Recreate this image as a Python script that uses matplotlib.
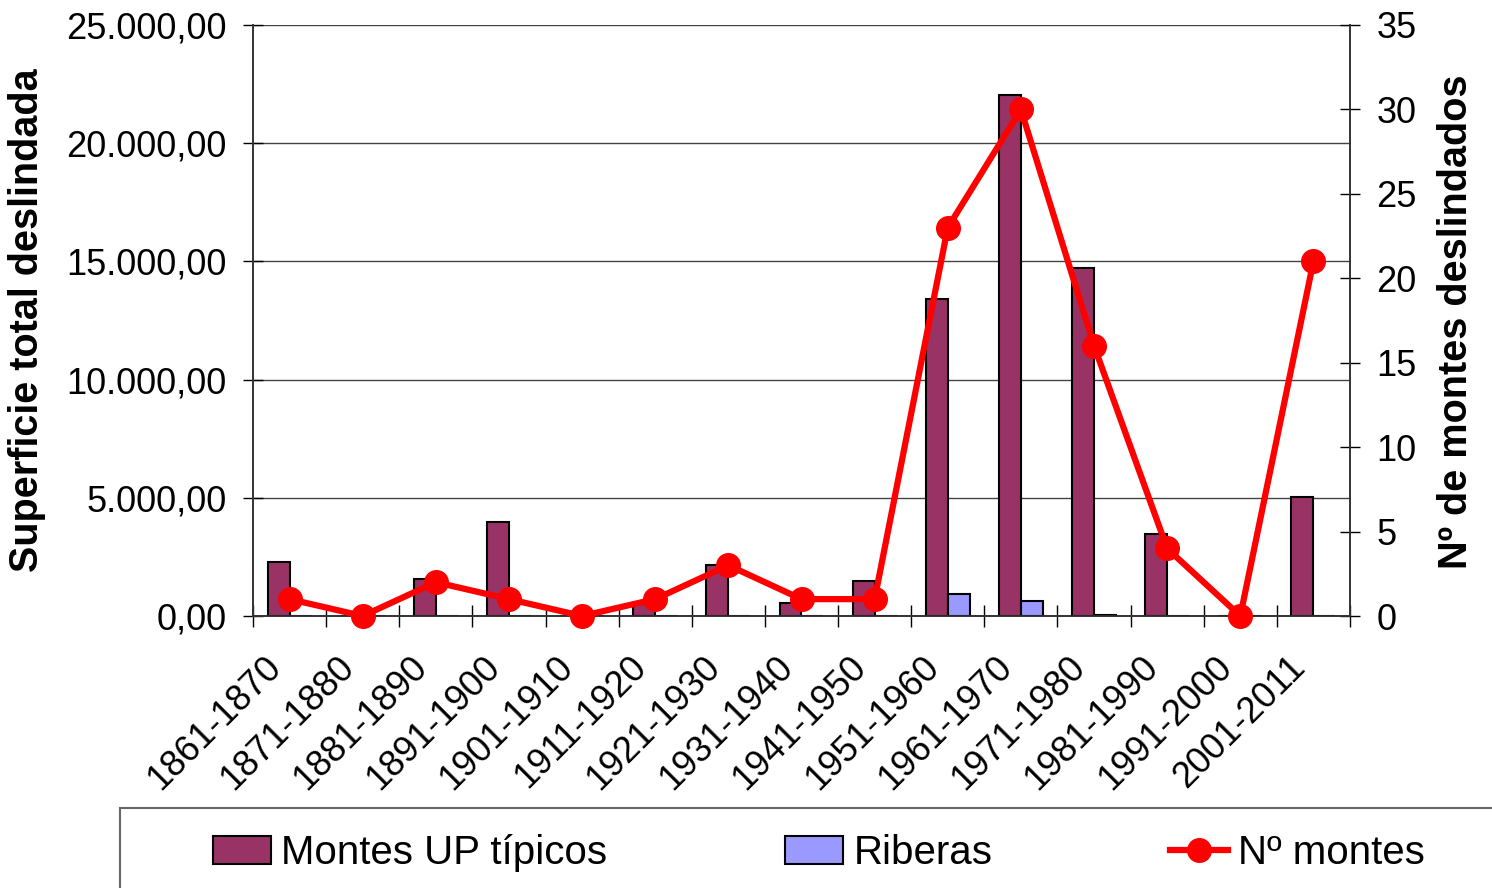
import numpy as np
import matplotlib.pyplot as plt
from matplotlib.ticker import FuncFormatter
from matplotlib.patches import Rectangle

plt.rcParams['font.family'] = ['Liberation Sans', 'DejaVu Sans']

# data
periodos = ['1861-1870', '1871-1880', '1881-1890', '1891-1900', '1901-1910',
            '1911-1920', '1921-1930', '1931-1940', '1941-1950', '1951-1960',
            '1961-1970', '1971-1980', '1981-1990', '1991-2000', '2001-2011']
montes_up = [2290, 0, 1560, 3990, 0, 500, 2140, 550, 1490, 13420,
             22050, 14730, 3470, 0, 5030]
riberas = [0, 0, 0, 0, 0, 0, 0, 0, 0, 920, 620, 50, 0, 0, 0]
n_montes = [1, 0, 2, 1, 0, 1, 3, 1, 1, 23, 30, 16, 4, 0, 21]

fig = plt.figure(figsize=(14.92, 8.88), dpi=100)
ax = fig.add_axes([253/1492, 1 - 616/888, 1097/1492, 591/888])
ax2 = ax.twinx()

x = np.arange(len(periodos))
w = 0.3
ax.bar(x - w/2, montes_up, w, color='#993366', edgecolor='black', lw=1.5,
       label='Montes UP típicos', zorder=3)
ax.bar(x + w/2, riberas, w, color='#9999FF', edgecolor='black', lw=1.5,
       label='Riberas', zorder=3)
ax2.plot(x, n_montes, color='#FF0000', lw=4.5, marker='o', ms=17,
         label='Nº montes', zorder=4, clip_on=False)

ax.set_xlim(-0.5, len(periodos) - 0.5)
ax.set_ylim(0, 25000)
ax2.set_ylim(0, 35)
ax.set_yticks(np.arange(0, 25001, 5000))
ax2.set_yticks(np.arange(0, 36, 5))

def fmt(v, pos):
    return f'{v:,.2f}'.replace(',', 'X').replace('.', ',').replace('X', '.')

ax.yaxis.set_major_formatter(FuncFormatter(fmt))
ax.grid(axis='y', color='#444444', lw=1, zorder=0)
ax.set_axisbelow(True)

# labels sit a bit left of the category centre, as in the original
ax.set_xticks(x - 0.36)
ax.set_xticklabels(periodos, rotation=45, ha='right', rotation_mode='anchor',
                   fontsize=26)
ax.set_xticks(np.arange(-0.5, len(periodos), 1), minor=True)
ax.tick_params(axis='x', which='major', length=0, pad=24)
ax.tick_params(axis='x', which='minor', direction='inout', length=16, width=1)
ax.tick_params(axis='y', direction='inout', length=14, width=1,
               labelsize=26, pad=12)
ax2.tick_params(axis='y', direction='inout', length=14, width=1,
                labelsize=26, pad=12)

for a in (ax, ax2):
    for s in a.spines.values():
        s.set_color('#333333')
        s.set_linewidth(1.2)
ax.spines['top'].set_visible(False)
ax2.spines['top'].set_visible(False)

ax.set_ylabel('Superficie total deslindada', fontsize=28.5, fontweight='bold')
ax2.set_ylabel('Nº de montes deslindados', fontsize=28.5, fontweight='bold')
ax.yaxis.set_label_coords(-0.1887, 0.5)
ax2.yaxis.set_label_coords(1.079, 0.498)

# legend box (runs past the right and bottom edges like the original)
fig.patches.append(Rectangle((120/1492, -0.2), 1.0, 0.2 + 80/888,
                             transform=fig.transFigure, fill=False,
                             edgecolor='#666666', lw=1.5))

h1, l1 = ax.get_legend_handles_labels()
h2, l2 = ax2.get_legend_handles_labels()
leg = fig.legend(h1 + h2, l1 + l2, loc='center left',
                 bbox_to_anchor=(213/1492, 1 - 853/888), ncol=3,
                 prop={'size': 29},
                 frameon=False, handlelength=1.45, handleheight=0.7,
                 handletextpad=0.25, columnspacing=4.4, borderaxespad=0,
                 borderpad=0)

fig.savefig('out.png', dpi=100)
